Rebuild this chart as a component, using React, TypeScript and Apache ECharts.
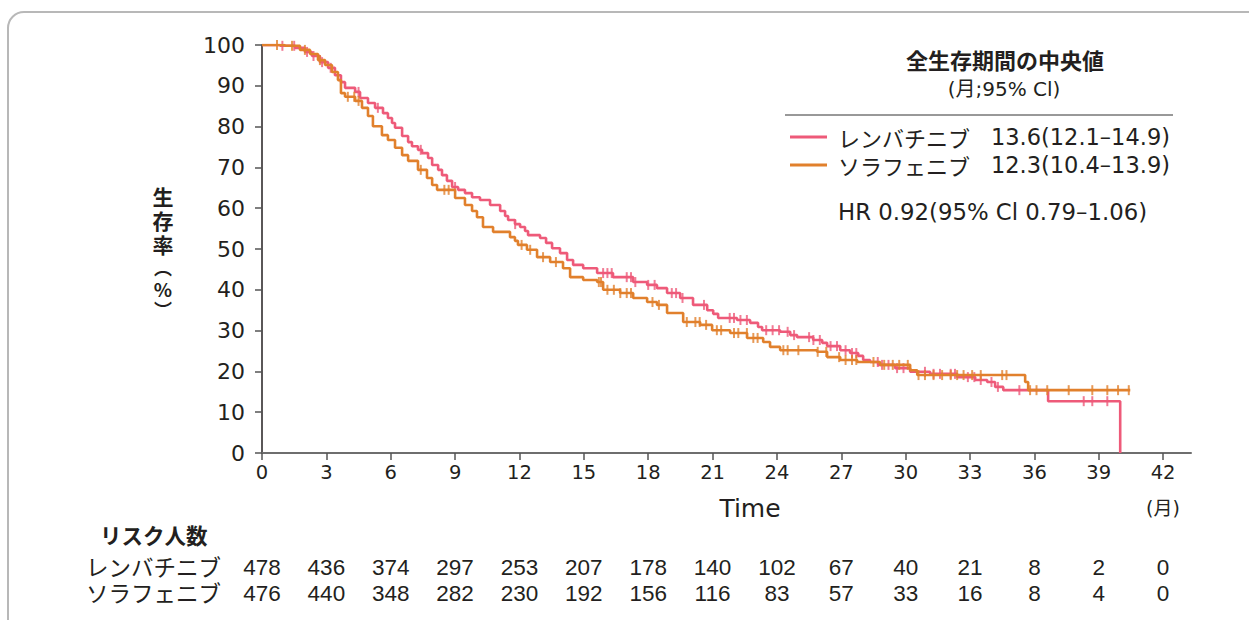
import React, { useEffect, useRef } from 'react';
import * as echarts from 'echarts';

const PINK = '#ee5a79';
const ORANGE = '#e1802c';
const INK = '#231f20';
const FONT = '"DejaVu Sans", "Noto Sans CJK JP", sans-serif';
const JP = '"Noto Sans CJK JP", "Noto Sans", sans-serif';
const NUM = '"Liberation Sans", Arial, sans-serif';

const seriesNames = ['レンバチニブ', 'ソラフェニブ'];
const medianTexts = ['13.6(12.1–14.9)', '12.3(10.4–13.9)'];
const yNameChars = ['生', '存', '率', '︵', '%', '︶'];

// [months, survival %] — level that starts at that time
const lenvatinibSteps: [number, number][] = [
  [0, 100], [0.84, 99.8], [1.54, 99.3], [2.0, 98.3], [2.33, 97.3], [2.7, 95.8], [3.08, 94.4], [3.4, 92.6],
  [3.68, 90.9], [3.87, 89.5], [4.34, 88.5], [4.57, 87.0], [4.94, 85.8], [5.27, 84.6], [5.64, 83.3], [5.87, 82.1],
  [6.06, 80.9], [6.2, 79.7], [6.53, 77.7], [6.81, 76.2], [6.99, 75.2], [7.27, 74.3], [7.46, 73.5], [7.74, 72.3],
  [7.93, 70.6], [8.21, 69.4], [8.39, 68.1], [8.62, 66.7], [8.86, 65.2], [9.14, 64.5], [9.46, 63.7], [9.79, 62.7],
  [10.16, 62.0], [10.63, 60.8], [11.1, 59.3], [11.33, 58.1], [11.47, 57.1], [11.79, 56.1], [12.03, 55.4],
  [12.26, 54.4], [12.4, 53.4], [12.96, 52.7], [13.24, 51.5], [13.52, 50.2], [13.89, 49.0], [14.22, 47.3],
  [14.5, 46.1], [14.97, 45.3], [15.62, 44.1], [16.36, 43.1], [17.3, 41.9], [17.95, 41.2], [18.41, 40.4],
  [18.88, 39.2], [19.49, 38.0], [20.09, 36.3], [20.75, 35.0], [21.03, 34.1], [21.26, 33.1], [22.14, 32.6],
  [22.75, 31.9], [23.12, 30.9], [23.31, 30.1], [24.15, 29.7], [24.62, 28.9], [24.94, 28.4], [25.69, 27.7],
  [26.11, 27.0], [26.34, 26.2], [26.95, 25.2], [27.41, 24.5], [27.79, 23.8], [28.02, 22.8], [28.34, 22.3],
  [28.72, 21.6], [29.51, 20.8], [30.21, 19.9], [31.14, 19.4], [32.4, 18.6], [33.24, 17.9], [33.8, 17.4],
  [34.17, 16.2], [34.55, 15.4], [36.64, 12.7], [40.0, 0],
];

const sorafenibSteps: [number, number][] = [
  [0, 100], [1.07, 99.8], [1.77, 98.8], [2.24, 97.8], [2.61, 96.3], [2.94, 95.1], [3.26, 93.4], [3.54, 91.4],
  [3.68, 88.2], [3.87, 87.3], [4.34, 86.3], [4.66, 84.6], [4.94, 82.6], [5.17, 80.1], [5.59, 77.9], [5.87, 76.7],
  [6.2, 74.8], [6.53, 73.0], [6.81, 71.6], [7.27, 69.4], [7.69, 67.4], [7.93, 65.7], [8.16, 64.5], [9.0, 62.5],
  [9.46, 60.8], [9.79, 59.3], [10.02, 57.8], [10.3, 55.4], [10.77, 54.2], [11.56, 52.9], [11.79, 52.0],
  [11.93, 51.0], [12.35, 49.8], [12.82, 48.0], [13.43, 46.8], [14.03, 45.3], [14.36, 43.1], [14.97, 42.4],
  [15.62, 41.9], [15.9, 40.0], [16.69, 39.2], [17.3, 38.0], [17.95, 37.0], [18.41, 36.3], [18.88, 34.3],
  [19.63, 32.1], [20.42, 31.4], [20.98, 30.1], [21.82, 29.4], [22.61, 28.2], [23.36, 27.2], [23.68, 26.0],
  [24.15, 25.2], [25.87, 24.8], [26.34, 23.5], [26.95, 22.8], [27.74, 22.3], [28.81, 21.6], [30.21, 20.3],
  [30.54, 19.1], [35.57, 17.4], [35.71, 15.4], [40.47, 15.4],
];

const lenvatinibCensored: number[] = [
  0.95, 1.5, 2.1, 2.4, 2.8, 3.2, 4.5, 5.4, 7.4, 9.0, 11.8, 15.9, 16.1, 16.3, 17.0, 17.2, 17.4, 18.0, 18.3,
  19.1, 19.3, 19.6, 20.6, 21.8, 22.0, 22.3, 22.6, 23.5, 23.8, 24.1, 24.5, 24.8, 25.5, 25.7, 26.0, 26.5, 26.8,
  27.2, 27.5, 27.7, 28.7, 28.9, 29.2, 29.6, 29.9, 30.9, 31.3, 31.6, 32.1, 32.3, 32.9, 33.2, 33.5, 34.0, 34.3,
  35.3, 38.3, 38.7, 39.4,
];

const sorafenibCensored: number[] = [
  0.7, 1.4, 2.0, 2.7, 4.0, 4.3, 4.5, 7.4, 8.5, 8.7, 12.1, 12.5, 13.1, 13.7, 15.7, 15.8, 16.1, 16.4, 16.7,
  17.0, 17.2, 18.2, 18.5, 19.8, 20.2, 20.4, 20.7, 21.2, 21.4, 22.0, 22.2, 22.6, 22.9, 23.1, 24.3, 24.5, 25.0,
  25.9, 26.3, 26.9, 27.2, 27.5, 27.7, 28.5, 29.0, 29.4, 29.7, 30.1, 30.6, 30.9, 31.3, 31.7, 32.1, 32.4, 32.7,
  33.1, 33.5, 34.5, 34.7, 35.8, 36.1, 36.6, 37.6, 38.7, 39.4, 39.9, 40.4,
];

const xTicks = [0, 3, 6, 9, 12, 15, 18, 21, 24, 27, 30, 33, 36, 39, 42];
const riskLenvatinib = [478, 436, 374, 297, 253, 207, 178, 140, 102, 67, 40, 21, 8, 2, 0];
const riskSorafenib = [476, 440, 348, 282, 230, 192, 156, 116, 83, 57, 33, 16, 8, 4, 0];

function survivalAt(steps: [number, number][], t: number): number {
  let s = steps[0][1];
  for (const [ti, si] of steps) {
    if (ti <= t) s = si;
  }
  return s;
}

const txt = (x: number, y: number, text: string, opts: any = {}) => ({
  type: 'text',
  x,
  y,
  silent: true,
  style: {
    text,
    fill: INK,
    fontSize: 22,
    fontFamily: FONT,
    textAlign: 'left',
    textVerticalAlign: 'middle',
    ...opts,
  },
});

export default function App() {
  const ref = useRef<HTMLDivElement>(null);

  useEffect(() => {
    if (!ref.current) return;
    const chart = echarts.init(ref.current, undefined, { renderer: 'svg' });

    const yNameY = [196, 220, 244, 267, 288, 309];
    const yNameSize = [21, 21, 21, 18, 19, 18];
    const staticGraphics: any[] = [
      {
        type: 'rect',
        silent: true,
        z: -10,
        shape: { x: 8, y: 12, width: 1320, height: 720, r: 16 },
        style: { fill: 'none', stroke: '#b8b8b8', lineWidth: 2 },
      },
      // y-axis name, stacked vertically
      ...yNameChars.map((c, i) =>
        txt(163, yNameY[i], c, {
          fontFamily: JP,
          fontWeight: 'bold',
          fontSize: yNameSize[i],
          lineHeight: 20,
          textAlign: 'center',
        })
      ),
      // x-axis name and unit
      txt(750, 508, 'Time', { fontSize: 25, textAlign: 'center' }),
      txt(1163, 508, '(月)', { fontSize: 19, textAlign: 'center' }),
      // legend block
      txt(1005, 59, '全生存期間の中央値', { fontFamily: JP, fontWeight: 'bold', fontSize: 22, lineHeight: 24, textAlign: 'center' }),
      txt(1004, 89, '(月;95% Cl)', { fontSize: 20, lineHeight: 22, textAlign: 'center' }),
      {
        type: 'line',
        silent: true,
        shape: { x1: 785, y1: 115, x2: 1173, y2: 115 },
        style: { stroke: '#333', lineWidth: 1 },
      },
      {
        type: 'line',
        silent: true,
        shape: { x1: 790, y1: 137, x2: 827, y2: 137 },
        style: { stroke: PINK, lineWidth: 3 },
      },
      {
        type: 'line',
        silent: true,
        shape: { x1: 790, y1: 165, x2: 827, y2: 165 },
        style: { stroke: ORANGE, lineWidth: 3 },
      },
      txt(838, 137, seriesNames[0], { fontFamily: JP, fontSize: 22, lineHeight: 24 }),
      txt(838, 165, seriesNames[1], { fontFamily: JP, fontSize: 22, lineHeight: 24 }),
      txt(1170, 137, medianTexts[0], { textAlign: 'right', fontSize: 22.5, lineHeight: 24 }),
      txt(1170, 165, medianTexts[1], { textAlign: 'right', fontSize: 22.5, lineHeight: 24 }),
      txt(838, 212, 'HR 0.92(95% Cl 0.79–1.06)', { fontSize: 22.8, lineHeight: 24 }),
      // risk table header and row labels
      txt(100, 534, 'リスク人数', { fontFamily: JP, fontWeight: 'bold', fontSize: 21.5, lineHeight: 23 }),
      txt(221, 566, seriesNames[0], { fontFamily: JP, fontSize: 22.5, lineHeight: 24, textAlign: 'right' }),
      txt(221, 592, seriesNames[1], { fontFamily: JP, fontSize: 22.5, lineHeight: 24, textAlign: 'right' }),
    ];

    const censorSymbol = { symbol: 'rect', symbolSize: [2, 10] };

    chart.setOption({
      animation: false,
      grid: { left: 262, top: 45, right: 58, bottom: 167, containLabel: false },
      xAxis: {
        type: 'value',
        min: 0,
        max: 43.3,
        splitLine: { show: false },
        axisLine: { lineStyle: { color: '#6e6e6e', width: 2 } },
        axisTick: { customValues: xTicks, length: 7, lineStyle: { color: '#555', width: 1.5 } },
        axisLabel: { customValues: xTicks, fontSize: 19.5, color: INK, fontFamily: FONT, margin: 10 },
      },
      yAxis: {
        type: 'value',
        min: 0,
        max: 100,
        interval: 10,
        splitLine: { show: false },
        axisLine: { show: true, lineStyle: { color: INK, width: 1.5 } },
        axisTick: { show: true, length: 7, lineStyle: { color: '#555', width: 1.5 } },
        axisLabel: { fontSize: 22, color: INK, fontFamily: FONT, margin: 17 },
      },
      series: [
        {
          name: seriesNames[0],
          type: 'line',
          step: 'end',
          showSymbol: false,
          data: lenvatinibSteps,
          lineStyle: { color: PINK, width: 2.6 },
          itemStyle: { color: PINK },
          z: 2,
        },
        {
          name: seriesNames[0] + ' censored',
          type: 'scatter',
          ...censorSymbol,
          data: lenvatinibCensored.map((t) => [t, survivalAt(lenvatinibSteps, t)]),
          itemStyle: { color: PINK },
          z: 2,
        },
        {
          name: seriesNames[1],
          type: 'line',
          step: 'end',
          showSymbol: false,
          data: sorafenibSteps,
          lineStyle: { color: ORANGE, width: 2.6 },
          itemStyle: { color: ORANGE },
          z: 3,
        },
        {
          name: seriesNames[1] + ' censored',
          type: 'scatter',
          ...censorSymbol,
          data: sorafenibCensored.map((t) => [t, survivalAt(sorafenibSteps, t)]),
          itemStyle: { color: ORANGE },
          z: 3,
        },
      ],
      graphic: staticGraphics,
    });

    const riskGraphics: any[] = [];
    xTicks.forEach((t, i) => {
      const px = chart.convertToPixel({ xAxisIndex: 0 }, t) as number;
      riskGraphics.push(
        txt(px, 567, String(riskLenvatinib[i]), { fontFamily: NUM, fontSize: 22.5, lineHeight: 24, textAlign: 'center' })
      );
      riskGraphics.push(
        txt(px, 593, String(riskSorafenib[i]), { fontFamily: NUM, fontSize: 22.5, lineHeight: 24, textAlign: 'center' })
      );
    });
    chart.setOption({ graphic: [...staticGraphics, ...riskGraphics] });

    return () => chart.dispose();
  }, []);

  return (
    <div
      ref={ref}
      style={{ position: 'fixed', left: 0, top: 0, width: 1249, height: 620, background: '#fff' }}
    />
  );
}
